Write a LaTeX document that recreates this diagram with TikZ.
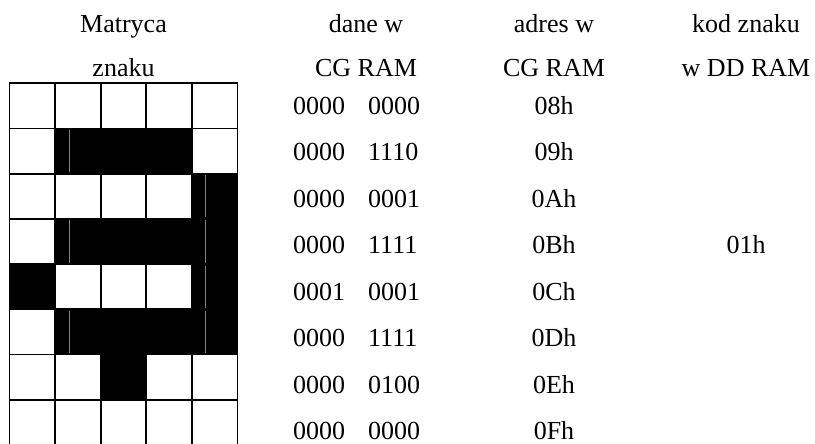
\documentclass[tikz,border=0pt]{standalone}
\usepackage{fontspec}
\setmainfont{Liberation Serif}
\begin{document}
\begin{tikzpicture}[x=1pt,y=-1pt,
  txt/.style={inner sep=0pt,anchor=base,font=\fontsize{26}{30}\selectfont},
  txtl/.style={txt,anchor=base west},
  gridline/.style={line width=1.8pt,black,line cap=rect},
  seam/.style={line width=0.9pt,black!50}]
\useasboundingbox (0,0) rectangle (815,444);
% black cells (row/col)
\foreach \r/\c in {1/1,1/2,1/3,2/4,3/1,3/2,3/3,3/4,4/0,4/4,5/1,5/2,5/3,5/4,6/2}
  \fill[black] ({9.5+45.6*\c},{83.3+45.2*\r}) rectangle ++(45.6,45.2);
% thin seams inside black cells
\foreach \r in {1,3,5}
  \draw[seam] (69.3,{83.3+45.2*\r+1.5}) -- (69.3,{83.3+45.2*(\r+1)-1.5});
\foreach \r in {2,3,4,5}
  \draw[seam] (205.5,{83.3+45.2*\r+1.5}) -- (205.5,{83.3+45.2*(\r+1)-1.5});
% grid
\foreach \r in {0,...,7}
  \draw[gridline] (9.5,{83.3+45.2*\r}) -- (237.5,{83.3+45.2*\r});
\foreach \c in {0,...,5}
  \draw[gridline] ({9.5+45.6*\c},83.3) -- ({9.5+45.6*\c},446);
% headers
\node[txt] (h1a) at (123.5,33) {Matryca};
\node[txt] (h1b) at (123.5,77) {znaku};
\node[txt] (h2a) at (366,33) {dane w};
\node[txt] (h2b) at (366,77) {CG RAM};
\node[txt] (h3a) at (554,33) {adres w};
\node[txt] (h3b) at (554,77) {CG RAM};
\node[txt] (h4a) at (746,33) {kod znaku};
\node[txt] (h4b) at (746,77) {w DD RAM};
% data rows
\foreach \i/\hi/\lo/\ad in {0/0000/0000/08h,1/0000/1110/09h,2/0000/0001/0Ah,3/0000/1111/0Bh,4/0001/0001/0Ch,5/0000/1111/0Dh,6/0000/0100/0Eh,7/0000/0000/0Fh}{
  \node[txtl] (hi\i) at (293,{114.3+46.45*\i}) {\hi};
  \node[txtl] (lo\i) at (368,{114.3+46.45*\i}) {\lo};
  \node[txt] (ad\i) at (554,{114.3+46.45*\i}) {\ad};
}
\node[txt] (kod) at (746,{114.3+46.45*3}) {01h};
\end{tikzpicture}
\end{document}
